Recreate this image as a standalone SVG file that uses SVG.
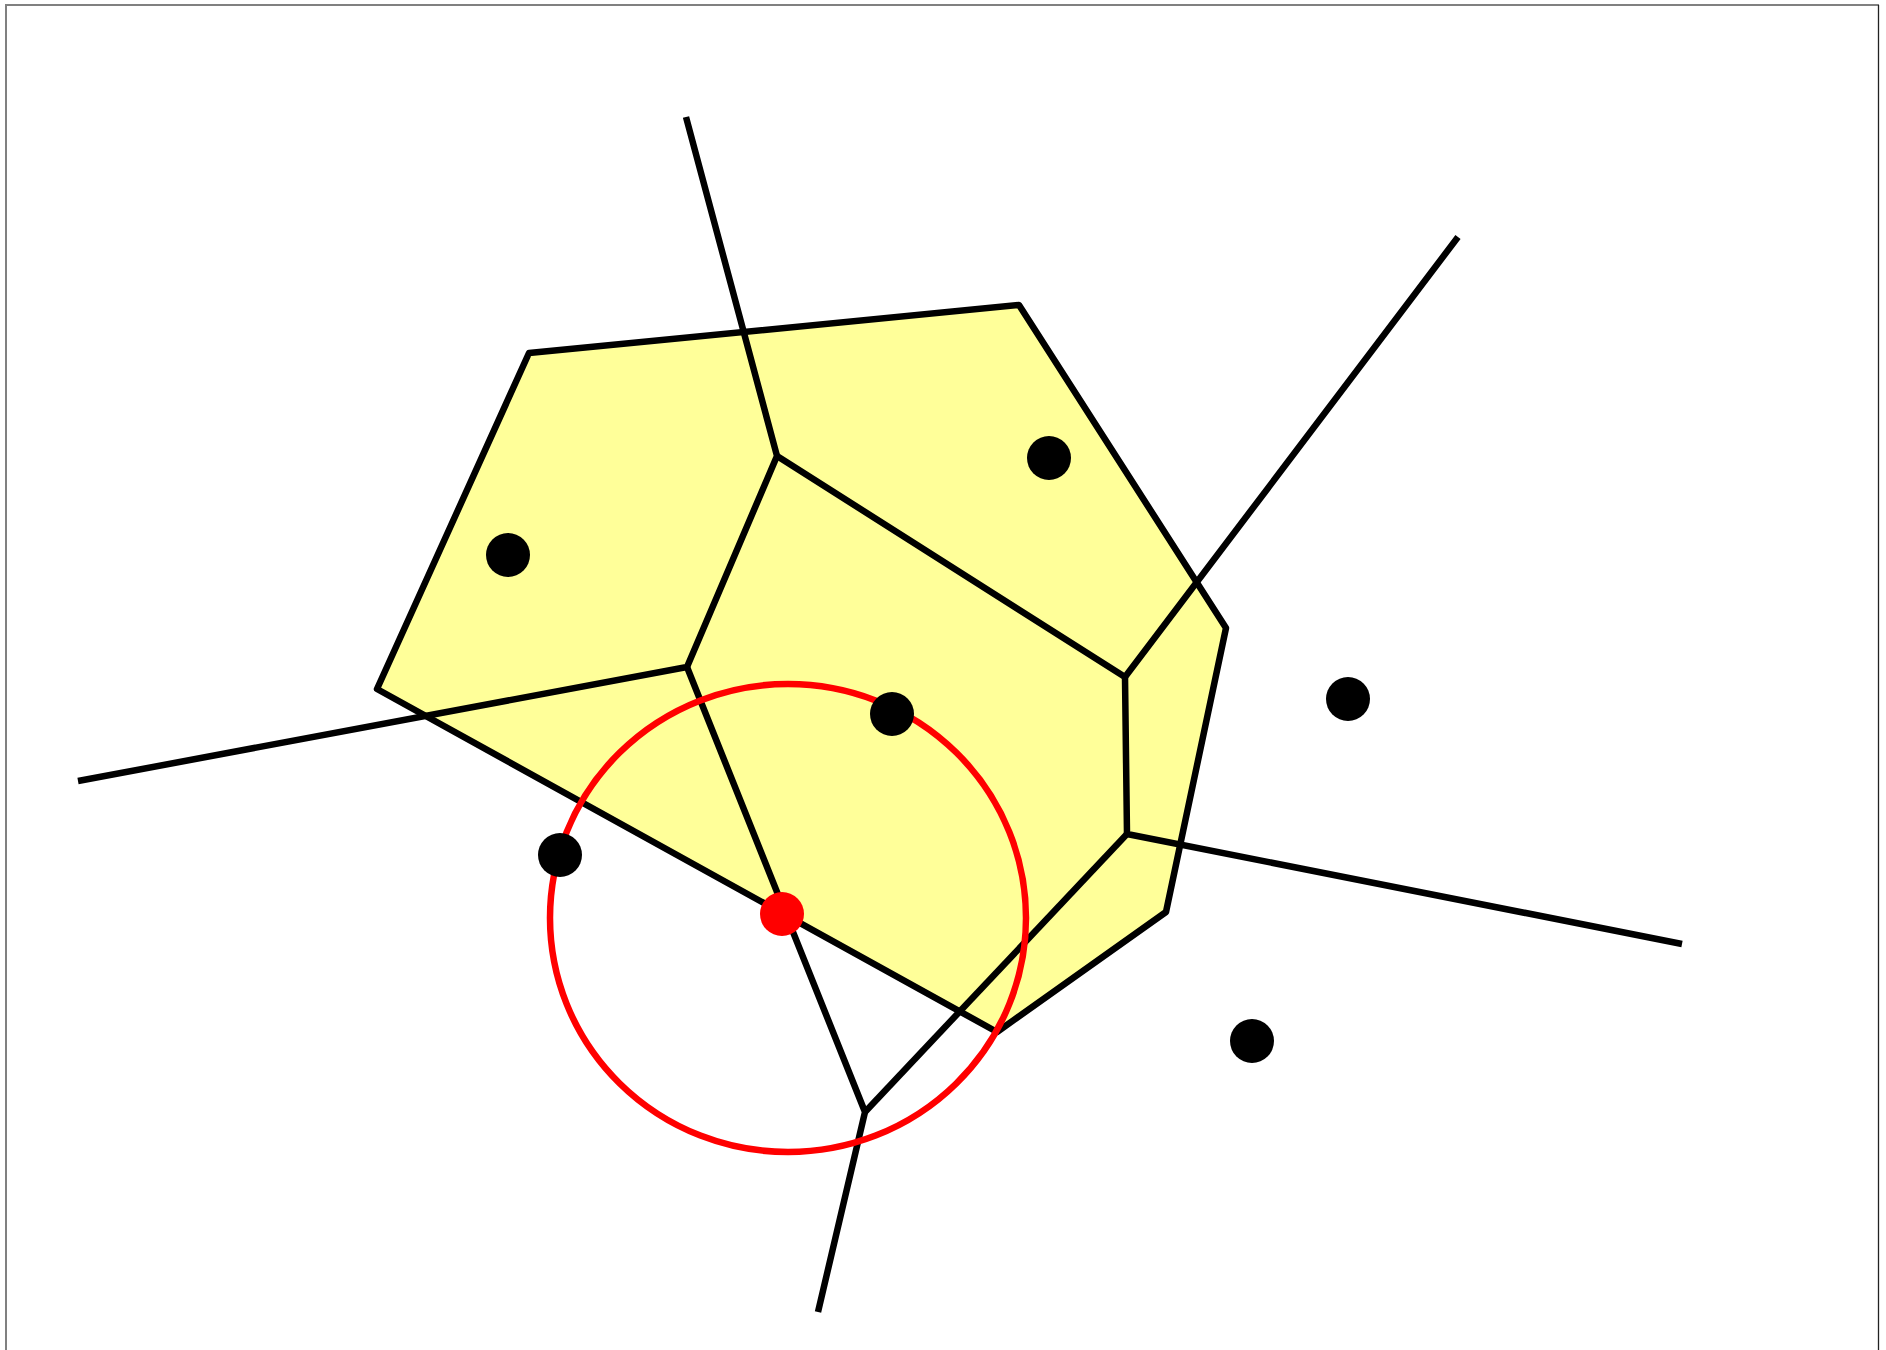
<svg xmlns="http://www.w3.org/2000/svg" width="1886" height="1350" viewBox="0 0 1886 1350">
  <style>
    .edge { fill: none; stroke: #000; stroke-width: 6.5; stroke-linejoin: round; stroke-linecap: butt; }
    .cell { fill: #ffff99; stroke: #000; stroke-width: 6.5; stroke-linejoin: round; }
    .site { fill: #000; }
    .hit { fill: #ff0000; }
    .circ { fill: none; stroke: #ff0000; stroke-width: 6.5; }
  </style>
  <rect x="0" y="0" width="1886" height="1350" fill="#fff"/>
  <g id="frame">
    <line x1="5" y1="5" x2="1879" y2="5" stroke="#808080" stroke-width="2"/>
    <line x1="6" y1="5" x2="6" y2="1350" stroke="#808080" stroke-width="2"/>
    <line x1="1878.5" y1="5" x2="1878.5" y2="1350" stroke="#222" stroke-width="1.3"/>
  </g>
  <g id="region">
    <polygon class="cell" points="529,353 1019,305 1226,628 1166,912 997,1032 377,689"/>
  </g>
  <g id="connectors">
    <polyline class="edge" points="686,117 777,456 687,667 78,781"/>
    <polyline class="edge" points="777,456 1125,677 1458,237"/>
    <polyline class="edge" points="687,667 865,1112 818,1312"/>
    <polyline class="edge" points="1125,677 1127,834 1682,944"/>
    <polyline class="edge" points="1127,834 865,1112"/>
  </g>
  <g id="circle">
    <ellipse class="circ" cx="788" cy="918" rx="238" ry="234"/>
  </g>
  <g id="sites">
    <circle id="s1" class="site" cx="508" cy="555" r="22"/>
    <circle id="s2" class="site" cx="1049" cy="458" r="22"/>
    <circle id="s3" class="site" cx="892" cy="714" r="22"/>
    <circle id="s4" class="site" cx="560" cy="855" r="22"/>
    <circle id="s5" class="site" cx="1348" cy="699" r="22"/>
    <circle id="s6" class="site" cx="1252" cy="1041" r="22"/>
    <circle id="s7" class="hit" cx="782" cy="914" r="22"/>
  </g>
</svg>
